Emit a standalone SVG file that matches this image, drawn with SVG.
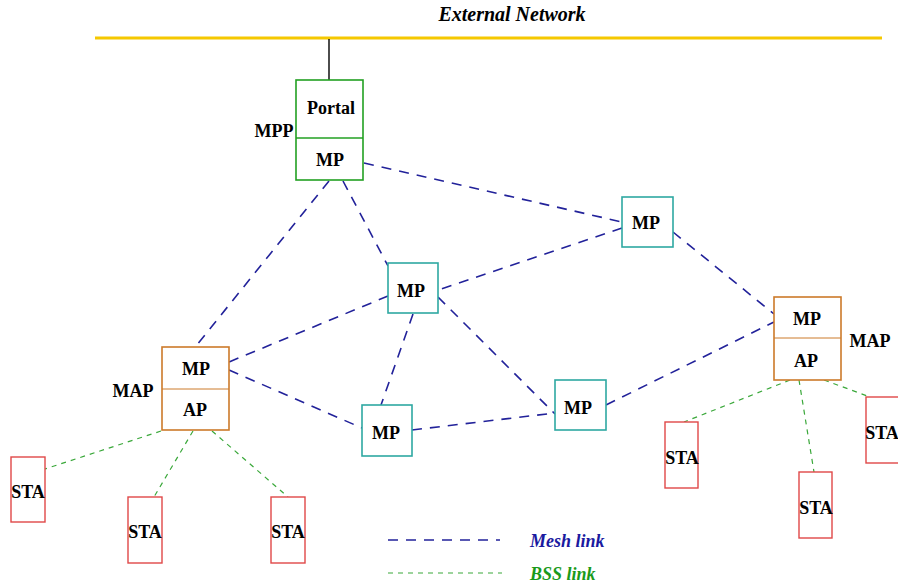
<svg xmlns="http://www.w3.org/2000/svg" width="898" height="583" viewBox="0 0 898 583">
<style>
text{font-family:"Liberation Serif","Times New Roman",serif;font-weight:bold;font-size:18px;fill:#000;text-anchor:middle}
.it{font-style:italic}
.box{fill:#fff;stroke-width:1.6}
.mpp{stroke:#22a022}
.mp{stroke:#2ea8a2}
.map{stroke:#cc7a2a}
.sta{stroke:#e04848;fill:#fff;stroke-width:1.4}
.mesh{stroke:#22229a;stroke-width:1.6;stroke-dasharray:10 8;fill:none}
.bss{stroke:#3aa83a;stroke-width:1.2;stroke-dasharray:5 5;fill:none}
</style>
<rect width="898" height="583" fill="#fff"/>
<text class="it" x="512" y="21" style="font-size:20px">External Network</text>
<line x1="95" y1="38" x2="882" y2="38" stroke="#f5c800" stroke-width="3"/>
<line x1="329" y1="39" x2="329" y2="80" stroke="#000" stroke-width="1.4"/>
<g id="connectors">
<line class="mesh" x1="329" y1="181" x2="196" y2="346"/>
<line class="mesh" x1="343" y1="181" x2="388" y2="266"/>
<line class="mesh" x1="364" y1="163" x2="622" y2="222"/>
<line class="mesh" x1="622" y1="228" x2="438" y2="290"/>
<line class="mesh" x1="673" y1="232" x2="774" y2="314"/>
<line class="mesh" x1="388" y1="296" x2="229" y2="362"/>
<line class="mesh" x1="413" y1="314" x2="381" y2="405"/>
<line class="mesh" x1="438" y1="297" x2="555" y2="414"/>
<line class="mesh" x1="229" y1="370" x2="362" y2="428"/>
<line class="mesh" x1="412" y1="430" x2="555" y2="413"/>
<line class="mesh" x1="606" y1="405" x2="774" y2="322"/>
<line class="bss" x1="161" y1="431" x2="45" y2="469"/>
<line class="bss" x1="193" y1="431" x2="154" y2="497"/>
<line class="bss" x1="212" y1="431" x2="288" y2="497"/>
<line class="bss" x1="790" y1="380" x2="684" y2="422"/>
<line class="bss" x1="799" y1="380" x2="814" y2="472"/>
<line class="bss" x1="824" y1="380" x2="870" y2="397"/>
</g>
<g id="mpp">
<rect class="box mpp" x="296" y="80" width="67" height="100"/>
<line class="mpp" x1="296" y1="138" x2="363" y2="138" stroke-width="1.6"/>
<text x="331" y="114">Portal</text>
<text x="330" y="166">MP</text>
<text x="274" y="137">MPP</text>
</g>
<g id="mp-top-right"><rect class="box mp" x="622" y="197" width="51" height="50"/><text x="646" y="229">MP</text></g>
<g id="mp-center"><rect class="box mp" x="388" y="263" width="50" height="50"/><text x="411" y="297">MP</text></g>
<g id="mp-bottom"><rect class="box mp" x="362" y="405" width="50" height="51"/><text x="386" y="439">MP</text></g>
<g id="mp-right"><rect class="box mp" x="555" y="380" width="51" height="50"/><text x="578" y="414">MP</text></g>
<g id="map-left">
<rect class="box map" x="162" y="347" width="67" height="83"/>
<line class="map" x1="162" y1="389" x2="229" y2="389" stroke-width="1"/>
<text x="196" y="375">MP</text>
<text x="195" y="416">AP</text>
<text x="133" y="397">MAP</text>
</g>
<g id="map-right">
<rect class="box map" x="774" y="297" width="67" height="83"/>
<line class="map" x1="774" y1="338" x2="841" y2="338" stroke-width="1"/>
<text x="807" y="325">MP</text>
<text x="806" y="367">AP</text>
<text x="870" y="347">MAP</text>
</g>
<g id="sta1"><rect class="sta" x="11" y="457" width="34" height="65"/><text x="28" y="498">STA</text></g>
<g id="sta2"><rect class="sta" x="128" y="497" width="34" height="66"/><text x="145" y="538">STA</text></g>
<g id="sta3"><rect class="sta" x="271" y="497" width="34" height="66"/><text x="288" y="538">STA</text></g>
<g id="sta4"><rect class="sta" x="665" y="422" width="33" height="66"/><text x="682" y="464">STA</text></g>
<g id="sta5"><rect class="sta" x="799" y="472" width="33" height="66"/><text x="816" y="514">STA</text></g>
<g id="sta6"><rect class="sta" x="866" y="397" width="33" height="66"/><text x="882" y="439">STA</text></g>
<g id="legend">
<line class="mesh" x1="388" y1="540" x2="500" y2="540"/>
<line class="bss" x1="388" y1="573" x2="502" y2="573" stroke="#6cc86c"/>
<text class="it" x="530" y="547" style="fill:#1a1aa0;text-anchor:start">Mesh link</text>
<text class="it" x="530" y="580" style="fill:#1a9a1a;text-anchor:start">BSS link</text>
</g>
</svg>
